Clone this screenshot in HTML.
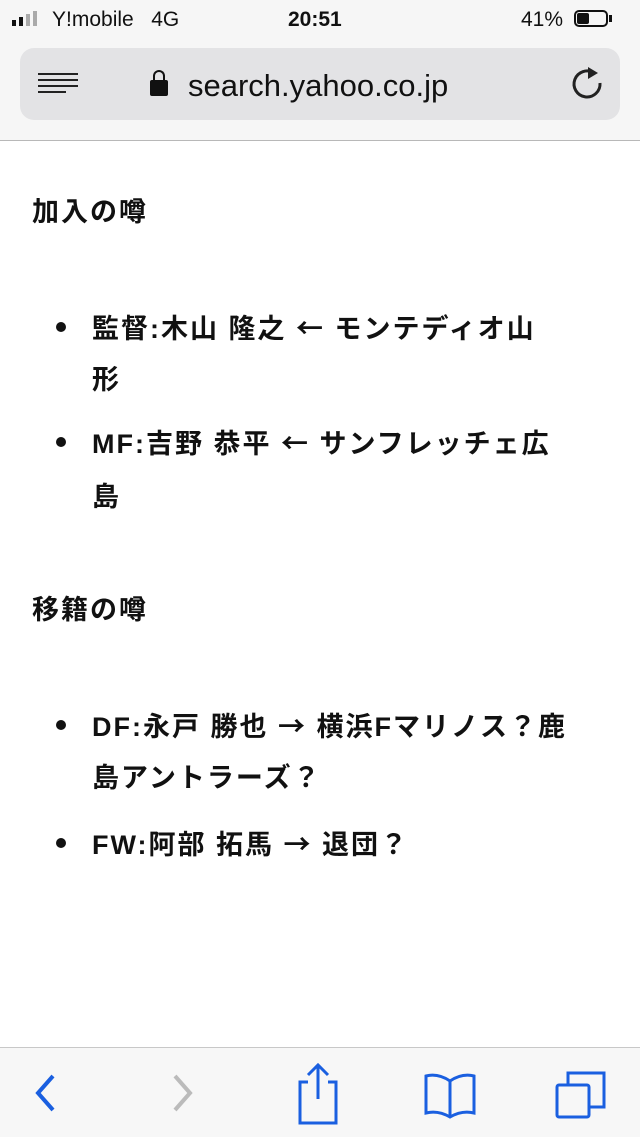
<!DOCTYPE html>
<html><head><meta charset="utf-8"><style>
body{margin:0;width:640px;height:1136px;position:relative;background:#fff;font-family:"Liberation Sans","Noto Sans CJK JP",sans-serif;overflow:hidden;color:#111}
.t{position:absolute;font-size:27px;letter-spacing:2px;font-weight:bold;white-space:nowrap;line-height:30px}
.a{font-family:"Noto Sans CJK JP",sans-serif}
.b{position:absolute;left:56px;width:10px;height:10px;border-radius:50%;background:#111}
</style></head><body>
<div style="position:absolute;left:0;top:0;width:640px;height:140px;background:#f6f6f6;border-bottom:1px solid #b8b8b8"></div>
<div style="position:absolute;left:12px;top:20px;width:4px;height:6px;background:#111"></div>
<div style="position:absolute;left:19px;top:17px;width:4px;height:9px;background:#111"></div>
<div style="position:absolute;left:26px;top:14px;width:4px;height:12px;background:#aaa"></div>
<div style="position:absolute;left:33px;top:11px;width:4px;height:15px;background:#aaa"></div>
<div class="t" style="left:52px;top:5px;font-size:21px;letter-spacing:0;font-weight:normal">Y!mobile&nbsp;&nbsp;&nbsp;4G</div>
<div class="t" style="left:288px;top:5px;font-size:21px;letter-spacing:0">20:51</div>
<div class="t" style="left:521px;top:5px;font-size:21px;letter-spacing:0;font-weight:normal">41%</div>
<div style="position:absolute;left:574px;top:10px;width:34px;height:17px;border:2px solid #111;border-radius:5px;box-sizing:border-box"></div>
<div style="position:absolute;left:577px;top:13px;width:12px;height:11px;background:#111;border-radius:2px"></div>
<div style="position:absolute;left:609px;top:15px;width:3px;height:7px;background:#111"></div>
<div style="position:absolute;left:20px;top:48px;width:600px;height:72px;background:#e3e3e5;border-radius:14px"></div>
<div style="position:absolute;left:38px;top:73px;width:40px;height:2px;background:#222"></div>
<div style="position:absolute;left:38px;top:79px;width:40px;height:2px;background:#222"></div>
<div style="position:absolute;left:38px;top:85px;width:40px;height:2px;background:#222"></div>
<div style="position:absolute;left:38px;top:91px;width:28px;height:2px;background:#222"></div>
<div style="position:absolute;left:150px;top:80px;width:18px;height:16px;background:#111;border-radius:2px"></div>
<div style="position:absolute;left:153px;top:70px;width:8px;height:12px;border:2px solid #111;border-bottom:none;border-radius:6px 6px 0 0"></div>
<div class="t" style="left:188px;top:68px;font-size:31px;letter-spacing:0;font-weight:normal;line-height:36px">search.yahoo.co.jp</div>
<svg style="position:absolute;left:568px;top:64px" width="40" height="40">
<path d="M26,9 A13,13 0 1 0 32,19" fill="none" stroke="#222" stroke-width="3"/>
<polygon points="20,3 30,9 20,15" fill="#222"/>
</svg>
<div class="t" style="left:32px;top:197px">加入の噂</div>
<div class="b" style="top:322px"></div>
<div class="t" style="left:92px;top:312px">監督:木山 隆之 <span class="a">←</span> モンテディオ山</div>
<div class="t" style="left:92px;top:365px">形</div>
<div class="b" style="top:437px"></div>
<div class="t" style="left:92px;top:427px">MF:吉野 恭平 <span class="a">←</span> サンフレッチェ広</div>
<div class="t" style="left:92px;top:482px">島</div>
<div class="t" style="left:32px;top:595px">移籍の噂</div>
<div class="b" style="top:720px"></div>
<div class="t" style="left:92px;top:710px">DF:永戸 勝也 <span class="a">→</span> 横浜Fマリノス？鹿</div>
<div class="t" style="left:92px;top:763px">島アントラーズ？</div>
<div class="b" style="top:838px"></div>
<div class="t" style="left:92px;top:828px">FW:阿部 拓馬 <span class="a">→</span> 退団？</div>
<div style="position:absolute;left:0;top:1047px;width:640px;height:89px;background:#f7f7f7;border-top:1px solid #c8c8c8"></div>
<svg style="position:absolute;left:0;top:1047px" width="640" height="89">
<polyline points="53,29 38,46 53,63" fill="none" stroke="#1a5fe0" stroke-width="4"/>
<polyline points="175,29 190,46 175,63" fill="none" stroke="#bbb" stroke-width="4"/>
<path d="M308,35 H300 V76 H336 V35 H328 M318,52 V18 M308,28 L318,18 L328,28" fill="none" stroke="#1a5fe0" stroke-width="3"/>
<path d="M450,34 Q438,26 426,29 V66 Q438,63 450,70 Q462,63 474,66 V29 Q462,26 450,34 V70" fill="none" stroke="#1a5fe0" stroke-width="3"/>
<rect x="557" y="38" width="32" height="32" fill="none" stroke="#1a5fe0" stroke-width="3" rx="2"/>
<path d="M568,38 V26 H604 V60 H589" fill="none" stroke="#1a5fe0" stroke-width="3"/>
</svg>
</body></html>
